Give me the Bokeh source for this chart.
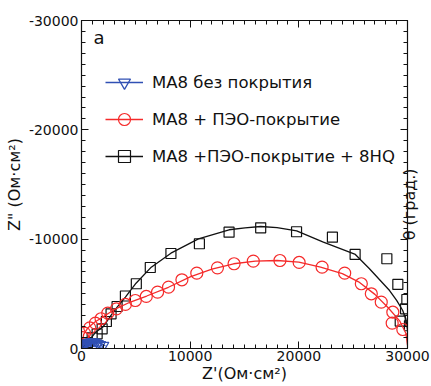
import math
from bokeh.plotting import figure
from bokeh.models import Range1d, LinearAxis, FixedTicker, Legend, LegendItem, Label
from bokeh.embed import file_html
from bokeh.resources import INLINE

# ---------------- data ----------------
X_TICKS = [0, 10000, 20000, 30000]
Y_TICKS = [-30000, -20000, -10000, 0]
X_TICK_LABELS = ["0", "10000", "20000", "30000"]
Y_TICK_LABELS = ["-30000", "-20000", "-10000", "0"]
MINOR_STEP = 1000

LABEL_BLUE = "МА8 без покрытия"
LABEL_RED = "МА8 + ПЭО-покрытие"
LABEL_BLACK = "МА8 +ПЭО-покрытие + 8HQ"
THETA_TITLE = "θ (град.)"

# MA8 uncoated (triangles)
blue_x = [50, 150, 250, 350, 450, 550, 650, 800, 950, 1100, 1250, 1400, 1600, 1800, 2100]
blue_y = [-150, -300, -400, -480, -540, -580, -610, -640, -650, -640, -610, -560, -480, -400, -330]
blue_fit_x = [0, 200, 500, 900, 1300, 1700, 2000, 2200]
blue_fit_y = [0, -350, -580, -660, -620, -480, -360, -250]

# MA8 + PEO (circles)
red_x = [120, 275, 760, 1280, 1800, 2420, 3210, 4040, 4950, 5960, 7000, 8010, 9240,
         10610, 12510, 14040, 15810, 18260, 20030, 22140, 24220, 25750, 26670, 27585,
         28650, 28590, 29570]
red_y = [-1000, -1400, -1890, -2315, -2720, -3230, -3630, -4030, -4390, -4760, -5150,
         -5610, -6285, -6890, -7380, -7750, -7990, -8050, -7870, -7440, -6890, -5920,
         -5005, -4236, -3320, -2315, -1738]
red_fit_x = [0, 200, 600, 1200, 2000, 3000, 4500, 6000, 8000, 10000, 12000, 14000, 16000,
             18000, 20000, 22000, 24000, 25500, 27000, 28200, 29300, 29850, 30000]
red_fit_y = [0, -1300, -1900, -2400, -2900, -3550, -4250, -4800, -5600, -6550, -7250, -7750,
             -8000, -8050, -7900, -7450, -6850, -6100, -4950, -3750, -2500, -1400, -300]

# MA8 + PEO + 8HQ (squares)
black_x = [550, 980, 1440, 1900, 2290, 2720, 3275, 4040, 5045, 6330, 8230, 10850, 13580,
           16490, 19790, 23090, 25180, 28100, 29110, 29940, 29820, 29330, 30180]
black_y = [-550, -980, -1345, -1800, -2470, -3175, -3840, -4800, -5920, -7410, -8690, -9580,
           -10640, -11040, -10680, -10180, -8600, -8210, -5860, -4480, -3630, -2510, -2080]
black_fit_x = [0, 500, 1300, 2000, 2700, 3300, 4040, 5020, 6420, 8230, 10760, 13580, 15050,
               16490, 18000, 19800, 22200, 25200, 26500, 28350, 29000, 29550, 29850, 30000]
black_fit_y = [0, -450, -1500, -2000, -3000, -3800, -4700, -5970, -7440, -8720, -10030, -10860,
               -11040, -11160, -11050, -10750, -9750, -8600, -7300, -5300, -4400, -3500, -2700,
               -1700]

# ---------------- styling ----------------
FONT = "DejaVu Sans"
BLUE = "#3050b4"
RED = "#f52a2a"
BLACK = "#111111"
THETA_TITLE_START = -9900   # where the (bottom-to-top) right-hand title begins

p = figure(width=431, height=386, output_backend="svg", toolbar_location=None,
           x_range=Range1d(X_TICKS[0], X_TICKS[-1]), y_range=Range1d(Y_TICKS[-1], Y_TICKS[0]),
           min_border_left=81, min_border_right=23, min_border_top=20, min_border_bottom=38)
p.grid.visible = False
p.outline_line_color = BLACK
p.background_fill_color = "white"
p.border_fill_color = "white"

x_minor = list(range(X_TICKS[0], X_TICKS[-1] + 1, MINOR_STEP))
y_minor = list(range(Y_TICKS[0], Y_TICKS[-1] + 1, MINOR_STEP))


def style_axis(ax, ticks, minor, labels=None):
    ax.ticker = FixedTicker(ticks=ticks, minor_ticks=minor)
    ax.major_tick_in = 7
    ax.major_tick_out = 0
    ax.minor_tick_in = 4
    ax.minor_tick_out = 0
    ax.axis_line_color = BLACK
    ax.major_tick_line_color = BLACK
    ax.minor_tick_line_color = BLACK
    ax.axis_line_width = 1.2
    ax.major_label_text_font = FONT
    ax.axis_label_text_font = FONT
    ax.axis_label_text_font_style = "normal"
    ax.axis_label_text_color = BLACK
    if labels is None:
        # tick marks only: labels are not drawn at all
        ax.major_label_text_color = None
        ax.major_label_text_font_size = "1px"
        ax.major_label_standoff = 0
    else:
        ax.major_label_text_color = BLACK
        ax.major_label_overrides = {t: s for t, s in zip(ticks, labels)}


xax = p.xaxis[0]
style_axis(xax, X_TICKS, x_minor, X_TICK_LABELS)
xax.axis_label = "Z'(Ом·см²)"
xax.axis_label_text_font_size = "16px"
xax.major_label_text_font_size = "14px"
xax.major_label_standoff = 2
xax.axis_label_standoff = 0

yax = p.yaxis[0]
style_axis(yax, Y_TICKS, y_minor, Y_TICK_LABELS)
yax.axis_label = 'Z" (Ом·см²)'
yax.axis_label_text_font_size = "16px"
yax.major_label_text_font_size = "14px"
yax.major_label_standoff = 3
yax.axis_label_standoff = 2

top_ax = LinearAxis()
style_axis(top_ax, X_TICKS, x_minor)
p.add_layout(top_ax, "above")

# right (phase) axis: tick marks only
right_ax = LinearAxis()
style_axis(right_ax, Y_TICKS, y_minor)
p.add_layout(right_ax, "right")

# its title, reading bottom-to-top, drawn as the single label of a bare outer axis
theta_ax = LinearAxis(ticker=FixedTicker(ticks=[THETA_TITLE_START], minor_ticks=[]),
                      major_label_overrides={THETA_TITLE_START: THETA_TITLE},
                      major_label_orientation=math.pi / 2,
                      major_label_text_font=FONT, major_label_text_font_size="16px",
                      major_label_text_color=BLACK, major_label_standoff=2,
                      axis_line_color=None, major_tick_line_color=None,
                      minor_tick_line_color=None, major_tick_in=0, major_tick_out=0,
                      minor_tick_in=0, minor_tick_out=0)
p.add_layout(theta_ax, "right")

# ---------------- glyphs ----------------
k_line = p.line(black_fit_x, black_fit_y, line_color=BLACK, line_width=1.3)
k_pts = p.scatter(black_x, black_y, marker="square", size=10, fill_color=None,
                  line_color=BLACK, line_width=1.2)
r_line = p.line(red_fit_x, red_fit_y, line_color=RED, line_width=1.3)
r_pts = p.scatter(red_x, red_y, marker="circle", size=12, fill_color=None,
                  line_color=RED, line_width=1.2)
b_line = p.line(blue_fit_x, blue_fit_y, line_color=BLUE, line_width=1.3)
b_pts = p.scatter(blue_x, blue_y, marker="inverted_triangle", size=9, fill_color=None,
                  line_color=BLUE, line_width=1.3)

legend = Legend(items=[LegendItem(label=LABEL_BLUE, renderers=[b_line, b_pts]),
                       LegendItem(label=LABEL_RED, renderers=[r_line, r_pts]),
                       LegendItem(label=LABEL_BLACK, renderers=[k_line, k_pts])],
                location=(24, 177), orientation="vertical",
                glyph_width=38, glyph_height=30, label_height=30, label_standoff=9,
                spacing=7, padding=0, margin=0,
                border_line_color=None, background_fill_alpha=0,
                label_text_font=FONT, label_text_font_size="16.5px", label_text_color=BLACK)
p.add_layout(legend)

# panel letter
p.add_layout(Label(x=1100, y=-28400, text="a", text_font=FONT, text_font_size="18px",
                   text_color=BLACK, text_baseline="alphabetic"))

open("out.html", "w").write(file_html(p, INLINE))
